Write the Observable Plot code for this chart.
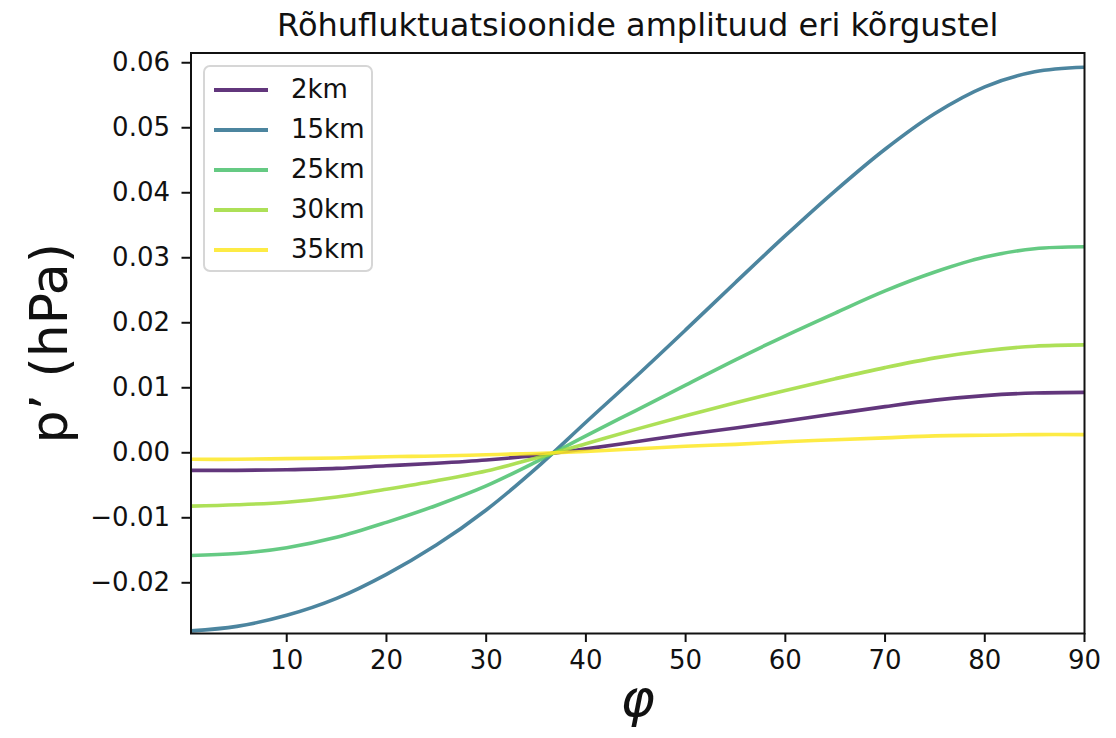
<!DOCTYPE html>
<html>
<head>
<meta charset="utf-8">
<script src="https://cdn.jsdelivr.net/npm/d3@7"></script>
<script src="https://cdn.jsdelivr.net/npm/@observablehq/plot@0.6"></script>
<style>
  body { margin: 0; background: #fff; }
  #fig { position: relative; width: 1116px; height: 738px; font-family: "DejaVu Sans", sans-serif; }
  #fig svg { position: absolute; left: 0; top: 0; }
  #legend {
    position: absolute; left: 203px; top: 65px; width: 170px; height: 207px;
    box-sizing: border-box; border: 2px solid #d6d6d6; border-radius: 7px;
    background: rgba(255,255,255,0.8);
  }
  .sw { position: absolute; left: 9px; width: 54px; height: 4px; }
  .lb { position: absolute; left: 86px; font-size: 26px; line-height: 26px; color: #111; }
</style>
</head>
<body>
<div id="fig"></div>
<script>
// Latitude (degrees) and pressure-fluctuation amplitude (hPa) at each height
const phi   = [0.4, 5, 10, 15, 20, 25, 30, 35, 40, 45, 50, 55, 60, 65, 70, 75, 80, 85, 90];
const p2km  = [-0.0027, -0.0027, -0.0026, -0.0024, -0.0020, -0.0016, -0.0011, -0.0004, 0.0006, 0.0017, 0.0028, 0.0038, 0.0049, 0.0060, 0.0071, 0.0081, 0.0088, 0.0092, 0.0093];
const p15km = [-0.0274, -0.0267, -0.0250, -0.0224, -0.0187, -0.0142, -0.0088, -0.0024, 0.0047, 0.0117, 0.0189, 0.0262, 0.0334, 0.0403, 0.0467, 0.0522, 0.0563, 0.0586, 0.0593];
const p25km = [-0.0158, -0.0155, -0.0146, -0.0130, -0.0107, -0.0081, -0.0051, -0.0014, 0.0026, 0.0065, 0.0104, 0.0143, 0.0180, 0.0215, 0.0249, 0.0278, 0.0301, 0.0314, 0.0317];
const p30km = [-0.0082, -0.0080, -0.0076, -0.0068, -0.0056, -0.0043, -0.0028, -0.0008, 0.0014, 0.0036, 0.0057, 0.0077, 0.0096, 0.0114, 0.0131, 0.0146, 0.0157, 0.0164, 0.0166];
const p35km = [-0.0010, -0.0010, -0.0009, -0.0008, -0.0006, -0.0005, -0.0003, -0.0001, 0.0002, 0.0006, 0.0010, 0.0013, 0.0017, 0.0020, 0.0023, 0.0026, 0.0027, 0.0028, 0.0028];

const heights = ["2km", "15km", "25km", "30km", "35km"];
const colors  = ["#471365", "#2d708e", "#4ac16d", "#9fda3a", "#fde725"];
const xTicks  = [10, 20, 30, 40, 50, 60, 70, 80, 90];
const yTicks  = [-0.02, -0.01, 0, 0.01, 0.02, 0.03, 0.04, 0.05, 0.06];

const title  = "Rõhufluktuatsioonide amplituud eri kõrgustel";
const yLabel = "p’ (hPa)";
const xLabel = "φ";

const series = [p2km, p15km, p25km, p30km, p35km];
const rows = heights.flatMap((h, i) => phi.map((x, j) => ({phi: x, p: series[i][j], h})));

const fmt = d => d.toFixed(2).replace("-", "\u2212");

const chart = Plot.plot({
  width: 1116,
  height: 738,
  marginLeft: 190.5,
  marginRight: 32,
  marginTop: 52.5,
  marginBottom: 105,
  x: {domain: [0.4, 90]},
  y: {domain: [-0.0278, 0.0615]},
  color: {domain: heights, range: colors},
  style: {fontFamily: "DejaVu Sans, sans-serif", fontSize: "26px", color: "#111", background: "#fff"},
  marks: [
    Plot.line(rows, {x: "phi", y: "p", z: "h", stroke: "h", strokeWidth: 3.6, strokeOpacity: 0.85, curve: "catmull-rom", clip: true}),
    Plot.frame({stroke: "#111", strokeWidth: 2}),
    Plot.axisX({ticks: xTicks, tickSize: 9, tickPadding: 8, fontSize: 26, strokeWidth: 2, label: null}),
    Plot.axisY({ticks: yTicks, tickSize: 9, tickPadding: 12, fontSize: 26, strokeWidth: 2, tickFormat: fmt, label: null}),
    Plot.text([title], {frameAnchor: "top", dy: -17, fontSize: 32, lineAnchor: "bottom", fill: "#111"}),
    Plot.text([yLabel], {frameAnchor: "left", dx: -124, rotate: -90, fontSize: 52, textAnchor: "middle", lineAnchor: "bottom", fill: "#111"}),
    Plot.text([xLabel], {frameAnchor: "bottom", dy: 82, fontSize: 52, fontStyle: "italic", lineAnchor: "bottom", fill: "#111"})
  ]
});

const fig = document.getElementById("fig");
fig.appendChild(chart);

// Legend box in the upper-left corner of the axes
const legend = document.createElement("div");
legend.id = "legend";
heights.forEach((h, i) => {
  const cy = 23 + i * 40;
  const sw = document.createElement("div");
  sw.className = "sw";
  sw.style.top = (cy - 2) + "px";
  sw.style.background = colors[i];
  sw.style.opacity = 0.85;
  const lb = document.createElement("div");
  lb.className = "lb";
  lb.style.top = (cy - 14) + "px";
  lb.textContent = h;
  legend.appendChild(sw);
  legend.appendChild(lb);
});
fig.appendChild(legend);
</script>
</body>
</html>
